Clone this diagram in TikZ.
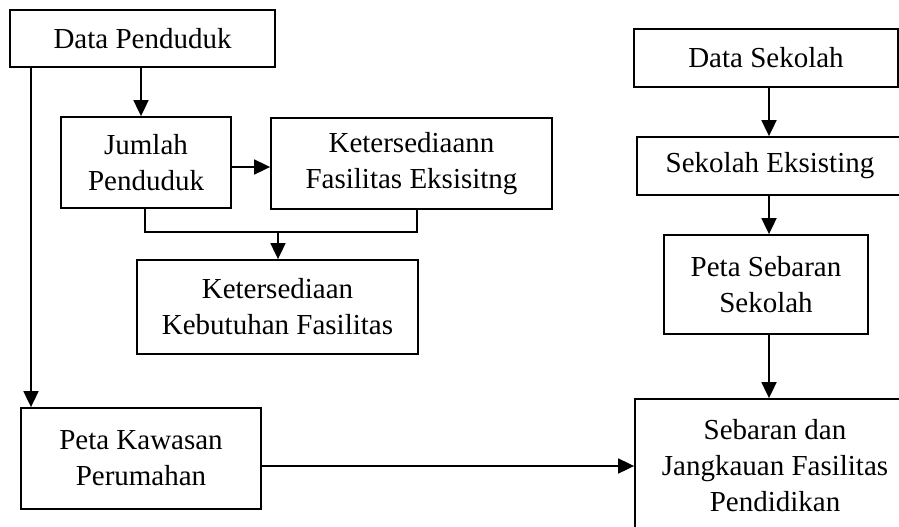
\documentclass[tikz,border=0pt]{standalone}
\usepackage{fontspec}
\setmainfont{Liberation Serif}
\usetikzlibrary{arrows.meta}
\begin{document}
\begin{tikzpicture}[x=1pt,y=-1pt,
  box/.style={draw,line width=1.8pt,rectangle,inner sep=0pt,align=center,
    font=\fontsize{29}{36}\selectfont},
  link/.style={line width=1.8pt},
  arr/.style={line width=1.8pt,-{Triangle[length=16pt,width=15pt]}}]
\useasboundingbox (0,0) rectangle (899,527);
\clip (0,0) rectangle (899,527);
\node[box,minimum width=265pt,minimum height=57pt] (dp) at (142.5,38.5) {Data Penduduk};
\node[box,minimum width=170pt,minimum height=91pt] (jp) at (146,162.5) {Jumlah\\Penduduk};
\node[box,minimum width=281pt,minimum height=91pt] (kfe) at (411.5,163.5) {Ketersediaann\\Fasilitas Eksisitng};
\node[box,minimum width=281pt,minimum height=94pt] (kkf) at (277.5,307) {Ketersediaan\\Kebutuhan Fasilitas};
\node[box,minimum width=240pt,minimum height=101pt] (pkp) at (141,458.5) {Peta Kawasan\\Perumahan};
\node[box,minimum width=264pt,minimum height=58pt] (ds) at (766,58) {Data Sekolah};
\node[box,minimum width=266pt,minimum height=58pt] (se) at (770,166) {Sekolah Eksisting};
\node[box,minimum width=204pt,minimum height=99pt] (pss) at (766,284.5) {Peta Sebaran\\Sekolah};
\node[box,minimum width=280pt,minimum height=134pt] (sj) at (775,466) {Sebaran dan\\Jangkauan Fasilitas\\Pendidikan};
\coordinate (xa) at (141,0);
\coordinate (xb) at (31,0);
\coordinate (ya) at (0,167);
\coordinate (xc) at (145,0);
\coordinate (xd) at (417,0);
\coordinate (jn) at (278,232);
\coordinate (yb) at (0,466);
\coordinate (xe) at (769,0);
\draw[arr] (dp.south -| xa) -- (jp.north -| xa);
\draw[arr] (dp.south -| xb) -- (pkp.north -| xb);
\draw[arr] (jp.east |- ya) -- (kfe.west |- ya);
\draw[link] (jp.south -| xc) -- (jn -| xc) -- (jn -| xd) -- (kfe.south -| xd);
\draw[arr] (jn) -- (kkf.north -| jn);
\draw[arr] (pkp.east |- yb) -- (sj.west |- yb);
\draw[arr] (ds.south -| xe) -- (se.north -| xe);
\draw[arr] (se.south -| xe) -- (pss.north -| xe);
\draw[arr] (pss.south -| xe) -- (sj.north -| xe);
\end{tikzpicture}
\end{document}
